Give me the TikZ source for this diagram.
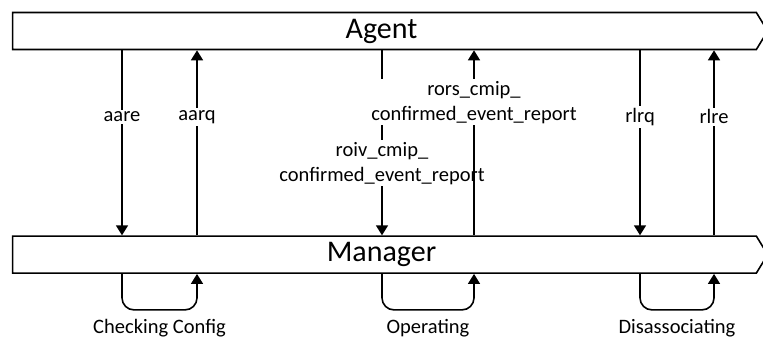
\documentclass[tikz,border=0pt]{standalone}
\usepackage{fontspec}
\setmainfont{Carlito}
\usepackage{tikz}
\usetikzlibrary{positioning, arrows.meta, shapes.symbols}
\tikzstyle{lane} = [signal, signal to=east, signal pointer angle=117, draw, line width=1.6bp, minimum width=755bp, minimum height=37bp, inner sep=0pt, font=\fontsize{30bp}{36bp}\selectfont]
\tikzstyle{msg} = [draw, line width=1.6bp, -{Triangle[width=12bp, length=10bp]}]
\tikzstyle{stay} = [msg, rounded corners=12bp]
\tikzstyle{lbl} = [fill=white, align=center, inner sep=2bp, font=\fontsize{20.5bp}{25bp}\selectfont]

\begin{document}
\begin{tikzpicture}[x=1bp, y=-1bp]
        \useasboundingbox (0,0) rectangle (763,340);
        % Lanes
        \node (agent) [lane] at (384.5,31) {\hspace*{-6bp}Agent};
        \node (manager) [lane, below=185bp of agent] {\hspace*{-6bp}Manager};
        % Columns of the messages
        \coordinate (aare) at (122,0);
        \coordinate (aarq) at (197,0);
        \coordinate (roiv) at (382,0);
        \coordinate (rors) at (474,0);
        \coordinate (rlrq) at (640,0);
        \coordinate (rlre) at (714,0);
        % Messages
        \path [msg] (aare |- agent.south) -- node[lbl, pos=0.36] {aare} (aare |- manager.north);
        \path [msg] (aarq |- manager.north) -- node[lbl, pos=0.64] {aarq} (aarq |- agent.south);
        \path [msg] (roiv |- agent.south) -- node[lbl, pos=0.61] {roiv\_cmip\_\\confirmed\_event\_report} (roiv |- manager.north);
        \path [msg] (rors |- manager.north) -- node[lbl, pos=0.72] {rors\_cmip\_\\confirmed\_event\_report} (rors |- agent.south);
        \path [msg] (rlrq |- agent.south) -- node[lbl, pos=0.36] {rlrq} (rlrq |- manager.north);
        \path [msg] (rlre |- manager.north) -- node[lbl, pos=0.64] {rlre} (rlre |- agent.south);
        % States of the manager
        \path [stay] (aare |- manager.south) -- ++(0,36) -| node[lbl, below=7bp, pos=0.25] {Checking Config} (aarq |- manager.south);
        \path [stay] (roiv |- manager.south) -- ++(0,36) -| node[lbl, below=7bp, pos=0.25] {Operating} (rors |- manager.south);
        \path [stay] (rlrq |- manager.south) -- ++(0,36) -| node[lbl, below=7bp, pos=0.25] {Disassociating} (rlre |- manager.south);
    \end{tikzpicture}
\end{document}
